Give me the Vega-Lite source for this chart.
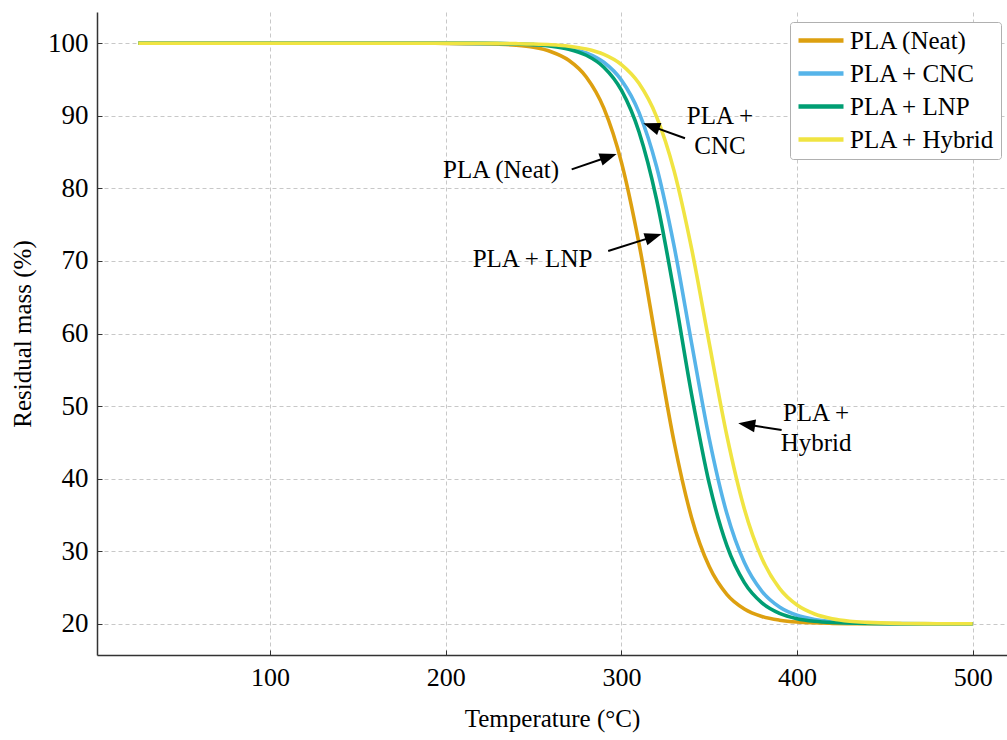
{
  "$schema": "https://vega.github.io/schema/vega-lite/v6.json",
  "width": 910,
  "height": 643,
  "autosize": {"type": "none"},
  "padding": {"left": 97, "top": 12, "right": 0, "bottom": 85},
  "background": "white",
  "config": {
    "view": {"stroke": null},
    "axis": {
      "domainColor": "#333333",
      "domainWidth": 1.5,
      "gridColor": "#c8c8c8",
      "gridDash": [4, 3],
      "gridWidth": 1,
      "tickColor": "#333333",
      "tickSize": -5,
      "tickWidth": 1,
      "labelFont": "Liberation Serif",
      "titleFont": "Liberation Serif",
      "labelColor": "#000000",
      "titleColor": "#000000",
      "titleFontWeight": "normal",
      "titleFontSize": 25
    },
    "legend": {
      "labelFont": "Liberation Serif",
      "labelFontSize": 25,
      "labelColor": "#000000"
    }
  },
  "datasets": {
    "curves": [
      {"s": "PLA (Neat)", "T": 25, "m": 100}, {"s": "PLA (Neat)", "T": 100, "m": 100}, {"s": "PLA (Neat)", "T": 150, "m": 100}, {"s": "PLA (Neat)", "T": 200, "m": 99.98},
      {"s": "PLA (Neat)", "T": 220, "m": 99.93}, {"s": "PLA (Neat)", "T": 230, "m": 99.86}, {"s": "PLA (Neat)", "T": 240, "m": 99.72}, {"s": "PLA (Neat)", "T": 250, "m": 99.43},
      {"s": "PLA (Neat)", "T": 260, "m": 98.83}, {"s": "PLA (Neat)", "T": 270, "m": 97.65}, {"s": "PLA (Neat)", "T": 280, "m": 95.35}, {"s": "PLA (Neat)", "T": 290, "m": 91.05},
      {"s": "PLA (Neat)", "T": 300, "m": 83.62}, {"s": "PLA (Neat)", "T": 310, "m": 72.43}, {"s": "PLA (Neat)", "T": 320, "m": 58.57}, {"s": "PLA (Neat)", "T": 330, "m": 45.05},
      {"s": "PLA (Neat)", "T": 340, "m": 34.59}, {"s": "PLA (Neat)", "T": 350, "m": 27.88}, {"s": "PLA (Neat)", "T": 360, "m": 24.06}, {"s": "PLA (Neat)", "T": 370, "m": 22.04},
      {"s": "PLA (Neat)", "T": 380, "m": 21.01}, {"s": "PLA (Neat)", "T": 390, "m": 20.5}, {"s": "PLA (Neat)", "T": 400, "m": 20.24}, {"s": "PLA (Neat)", "T": 420, "m": 20.06},
      {"s": "PLA (Neat)", "T": 440, "m": 20.01}, {"s": "PLA (Neat)", "T": 460, "m": 20}, {"s": "PLA (Neat)", "T": 500, "m": 20},

      {"s": "PLA + CNC", "T": 25, "m": 100}, {"s": "PLA + CNC", "T": 100, "m": 100}, {"s": "PLA + CNC", "T": 150, "m": 100}, {"s": "PLA + CNC", "T": 200, "m": 100},
      {"s": "PLA + CNC", "T": 220, "m": 99.98}, {"s": "PLA + CNC", "T": 230, "m": 99.96}, {"s": "PLA + CNC", "T": 240, "m": 99.91}, {"s": "PLA + CNC", "T": 250, "m": 99.83},
      {"s": "PLA + CNC", "T": 260, "m": 99.66}, {"s": "PLA + CNC", "T": 270, "m": 99.32}, {"s": "PLA + CNC", "T": 280, "m": 98.66}, {"s": "PLA + CNC", "T": 290, "m": 97.37},
      {"s": "PLA + CNC", "T": 300, "m": 94.91}, {"s": "PLA + CNC", "T": 310, "m": 90.47}, {"s": "PLA + CNC", "T": 320, "m": 83.0}, {"s": "PLA + CNC", "T": 330, "m": 72.03},
      {"s": "PLA + CNC", "T": 340, "m": 58.62}, {"s": "PLA + CNC", "T": 350, "m": 45.52}, {"s": "PLA + CNC", "T": 360, "m": 35.22}, {"s": "PLA + CNC", "T": 370, "m": 28.44},
      {"s": "PLA + CNC", "T": 380, "m": 24.47}, {"s": "PLA + CNC", "T": 390, "m": 22.31}, {"s": "PLA + CNC", "T": 400, "m": 21.17}, {"s": "PLA + CNC", "T": 410, "m": 20.59},
      {"s": "PLA + CNC", "T": 420, "m": 20.3}, {"s": "PLA + CNC", "T": 440, "m": 20.08}, {"s": "PLA + CNC", "T": 460, "m": 20.02}, {"s": "PLA + CNC", "T": 500, "m": 20},

      {"s": "PLA + LNP", "T": 25, "m": 100}, {"s": "PLA + LNP", "T": 100, "m": 100}, {"s": "PLA + LNP", "T": 150, "m": 100}, {"s": "PLA + LNP", "T": 200, "m": 100},
      {"s": "PLA + LNP", "T": 220, "m": 99.98}, {"s": "PLA + LNP", "T": 230, "m": 99.95}, {"s": "PLA + LNP", "T": 240, "m": 99.9}, {"s": "PLA + LNP", "T": 250, "m": 99.8},
      {"s": "PLA + LNP", "T": 260, "m": 99.6}, {"s": "PLA + LNP", "T": 270, "m": 99.18}, {"s": "PLA + LNP", "T": 280, "m": 98.34}, {"s": "PLA + LNP", "T": 290, "m": 96.69},
      {"s": "PLA + LNP", "T": 300, "m": 93.52}, {"s": "PLA + LNP", "T": 310, "m": 87.79}, {"s": "PLA + LNP", "T": 320, "m": 78.49}, {"s": "PLA + LNP", "T": 330, "m": 65.68},
      {"s": "PLA + LNP", "T": 340, "m": 51.56}, {"s": "PLA + LNP", "T": 350, "m": 39.34}, {"s": "PLA + LNP", "T": 360, "m": 30.8}, {"s": "PLA + LNP", "T": 370, "m": 25.68},
      {"s": "PLA + LNP", "T": 380, "m": 22.89}, {"s": "PLA + LNP", "T": 390, "m": 21.44}, {"s": "PLA + LNP", "T": 400, "m": 20.71}, {"s": "PLA + LNP", "T": 410, "m": 20.35},
      {"s": "PLA + LNP", "T": 420, "m": 20.17}, {"s": "PLA + LNP", "T": 440, "m": 20.04}, {"s": "PLA + LNP", "T": 460, "m": 20.01}, {"s": "PLA + LNP", "T": 500, "m": 20},

      {"s": "PLA + Hybrid", "T": 25, "m": 100}, {"s": "PLA + Hybrid", "T": 100, "m": 100}, {"s": "PLA + Hybrid", "T": 150, "m": 100}, {"s": "PLA + Hybrid", "T": 200, "m": 100},
      {"s": "PLA + Hybrid", "T": 220, "m": 99.99}, {"s": "PLA + Hybrid", "T": 230, "m": 99.97}, {"s": "PLA + Hybrid", "T": 240, "m": 99.94}, {"s": "PLA + Hybrid", "T": 250, "m": 99.89},
      {"s": "PLA + Hybrid", "T": 260, "m": 99.79}, {"s": "PLA + Hybrid", "T": 270, "m": 99.59}, {"s": "PLA + Hybrid", "T": 280, "m": 99.2}, {"s": "PLA + Hybrid", "T": 290, "m": 98.46},
      {"s": "PLA + Hybrid", "T": 300, "m": 97.06}, {"s": "PLA + Hybrid", "T": 310, "m": 94.47}, {"s": "PLA + Hybrid", "T": 320, "m": 89.89}, {"s": "PLA + Hybrid", "T": 330, "m": 82.41},
      {"s": "PLA + Hybrid", "T": 340, "m": 71.65}, {"s": "PLA + Hybrid", "T": 350, "m": 58.67}, {"s": "PLA + Hybrid", "T": 360, "m": 45.96}, {"s": "PLA + Hybrid", "T": 370, "m": 35.83},
      {"s": "PLA + Hybrid", "T": 380, "m": 28.99}, {"s": "PLA + Hybrid", "T": 390, "m": 24.88}, {"s": "PLA + Hybrid", "T": 400, "m": 22.58}, {"s": "PLA + Hybrid", "T": 410, "m": 21.35},
      {"s": "PLA + Hybrid", "T": 420, "m": 20.7}, {"s": "PLA + Hybrid", "T": 430, "m": 20.36}, {"s": "PLA + Hybrid", "T": 440, "m": 20.19}, {"s": "PLA + Hybrid", "T": 460, "m": 20.05},
      {"s": "PLA + Hybrid", "T": 480, "m": 20.01}, {"s": "PLA + Hybrid", "T": 500, "m": 20}
    ],
    "arrows": [
      {"x": 271.7, "y": 82.62, "x2": 292.7, "y2": 84.36, "angle": 341.2},
      {"x": 292.5, "y": 71.37, "x2": 318.3, "y2": 73.35, "angle": 342.3},
      {"x": 391.2, "y": 46.70, "x2": 371.3, "y2": 47.45, "angle": 188.8},
      {"x": 336.2, "y": 86.90, "x2": 317.0, "y2": 88.57, "angle": 199.8}
    ],
    "labels": [
      {"x": 231.5, "y": 82.53, "t": "PLA (Neat)"},
      {"x": 249.4, "y": 70.27, "t": "PLA + LNP"},
      {"x": 356.1, "y": 89.97, "t": "PLA +\nCNC"},
      {"x": 410.8, "y": 49.05, "t": "PLA +\nHybrid"}
    ]
  },
  "layer": [
    {
      "data": {"name": "curves"},
      "mark": {"type": "line", "strokeWidth": 3.6, "interpolate": "monotone"},
      "encoding": {
        "x": {
          "field": "T", "type": "quantitative",
          "scale": {"domain": [1.5, 519.5], "nice": false, "zero": false},
          "axis": {"title": "Temperature (°C)", "values": [100, 200, 300, 400, 500], "labelFontSize": 26, "labelPadding": 14, "titlePadding": 16}
        },
        "y": {
          "field": "m", "type": "quantitative",
          "scale": {"domain": [15.7, 104.3], "nice": false, "zero": false},
          "axis": {"title": "Residual mass (%)", "values": [20, 30, 40, 50, 60, 70, 80, 90, 100], "labelFontSize": 27, "labelPadding": 14, "titlePadding": 12}
        },
        "color": {
          "field": "s", "type": "nominal",
          "scale": {"domain": ["PLA (Neat)", "PLA + CNC", "PLA + LNP", "PLA + Hybrid"], "range": ["#DDA010", "#56B4E9", "#009E73", "#F0E442"]},
          "legend": {
            "title": null,
            "orient": "none",
            "legendX": 693,
            "legendY": 10,
            "symbolType": "M -1 0 L 3.5 0",
            "symbolSize": 400,
            "symbolStrokeWidth": 4.5,
            "labelOffset": 29,
            "rowPadding": 7,
            "padding": 6,
            "fillColor": "white",
            "strokeColor": "#b0b0b0",
            "cornerRadius": 3
          }
        },
        "order": {"field": "T", "type": "quantitative"}
      }
    },
    {
      "data": {"name": "arrows"},
      "mark": {"type": "rule", "strokeWidth": 2, "color": "black"},
      "encoding": {
        "x": {"field": "x", "type": "quantitative"},
        "y": {"field": "y", "type": "quantitative"},
        "x2": {"field": "x2"},
        "y2": {"field": "y2"}
      }
    },
    {
      "data": {"name": "arrows"},
      "mark": {"type": "point", "shape": "M 1 0 L -1 -0.75 L -1 0.75 Z", "filled": true, "color": "black", "opacity": 1, "size": 289, "strokeWidth": 0},
      "encoding": {
        "x": {"field": "x2", "type": "quantitative"},
        "y": {"field": "y2", "type": "quantitative"},
        "angle": {"field": "angle", "type": "quantitative", "scale": null}
      }
    },
    {
      "data": {"name": "labels"},
      "mark": {"type": "text", "font": "Liberation Serif", "fontSize": 25, "color": "black", "align": "center", "baseline": "middle", "lineBreak": "\n", "lineHeight": 30},
      "encoding": {
        "x": {"field": "x", "type": "quantitative"},
        "y": {"field": "y", "type": "quantitative"},
        "text": {"field": "t"}
      }
    }
  ]
}
